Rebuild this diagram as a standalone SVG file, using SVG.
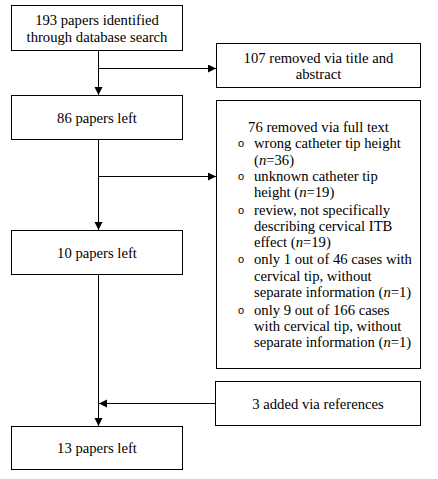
<svg xmlns="http://www.w3.org/2000/svg" width="438" height="479" viewBox="0 0 438 479">
<style>
.box{fill:#fff;stroke:#000;stroke-width:1}
.t{font-family:"Liberation Serif","Times New Roman",serif;font-size:14.67px;fill:#000}
.c{text-anchor:middle}
.b{font-family:"Liberation Mono","Courier New",monospace;font-size:11px;fill:#000;text-anchor:middle}
.ln{fill:none;stroke:#000;stroke-width:1}
</style>
<defs>
<marker id="ah" markerUnits="userSpaceOnUse" markerWidth="9" markerHeight="9" refX="8" refY="4" orient="auto">
<path d="M0,0 L8,4 L0,8 z" fill="#000"/>
</marker>
</defs>
<rect width="438" height="479" fill="#fff"/>
<g id="connectors">
<line class="ln" x1="98.5" y1="51" x2="98.5" y2="95" marker-end="url(#ah)"/>
<line class="ln" x1="98.5" y1="68.5" x2="216" y2="68.5" marker-end="url(#ah)"/>
<line class="ln" x1="98.5" y1="140" x2="98.5" y2="230" marker-end="url(#ah)"/>
<line class="ln" x1="98.5" y1="176.5" x2="216" y2="176.5" marker-end="url(#ah)"/>
<line class="ln" x1="98.5" y1="275" x2="98.5" y2="426" marker-end="url(#ah)"/>
<line class="ln" x1="215" y1="403.5" x2="99" y2="403.5" marker-end="url(#ah)"/>
</g>
<g id="n1">
<rect class="box" x="11.5" y="5.5" width="171" height="45"/>
<text class="t c" x="97" y="25">193 papers identified</text>
<text class="t c" x="97" y="41.5">through database search</text>
</g>
<g id="n2">
<rect class="box" x="216.5" y="43.5" width="204" height="44"/>
<text class="t c" x="318.5" y="63">107 removed via title and</text>
<text class="t c" x="318.5" y="79">abstract</text>
</g>
<g id="n3">
<rect class="box" x="11.5" y="95.5" width="171" height="44"/>
<text class="t c" x="97" y="122.5">86 papers left</text>
</g>
<g id="n4">
<rect class="box" x="216.5" y="100.5" width="204" height="268"/>
<text class="t c" x="318.5" y="132">76 removed via full text</text>
<text class="b" x="241" y="147">o</text>
<text class="t" x="254" y="148">wrong catheter tip height</text>
<text class="t" x="254" y="165">(<tspan font-style="italic">n</tspan>=36)</text>
<text class="b" x="241" y="180">o</text>
<text class="t" x="254" y="181">unknown catheter tip</text>
<text class="t" x="254" y="197">height (<tspan font-style="italic">n</tspan>=19)</text>
<text class="b" x="241" y="214">o</text>
<text class="t" x="254" y="215">review, not specifically</text>
<text class="t" x="254" y="231">describing cervical ITB</text>
<text class="t" x="254" y="247">effect (<tspan font-style="italic">n</tspan>=19)</text>
<text class="b" x="241" y="263">o</text>
<text class="t" x="254" y="264">only 1 out of 46 cases with</text>
<text class="t" x="254" y="281">cervical tip, without</text>
<text class="t" x="254" y="297">separate information (<tspan font-style="italic">n</tspan>=1)</text>
<text class="b" x="241" y="314">o</text>
<text class="t" x="254" y="315">only 9 out of 166 cases</text>
<text class="t" x="254" y="331">with cervical tip, without</text>
<text class="t" x="254" y="347">separate information (<tspan font-style="italic">n</tspan>=1)</text>
</g>
<g id="n5">
<rect class="box" x="11.5" y="230.5" width="171" height="44"/>
<text class="t c" x="97" y="257.5">10 papers left</text>
</g>
<g id="n6">
<rect class="box" x="215.5" y="381.5" width="205" height="44"/>
<text class="t c" x="318" y="408.5">3 added via references</text>
</g>
<g id="n7">
<rect class="box" x="11.5" y="426.5" width="171" height="43"/>
<text class="t c" x="97" y="453">13 papers left</text>
</g>
</svg>
